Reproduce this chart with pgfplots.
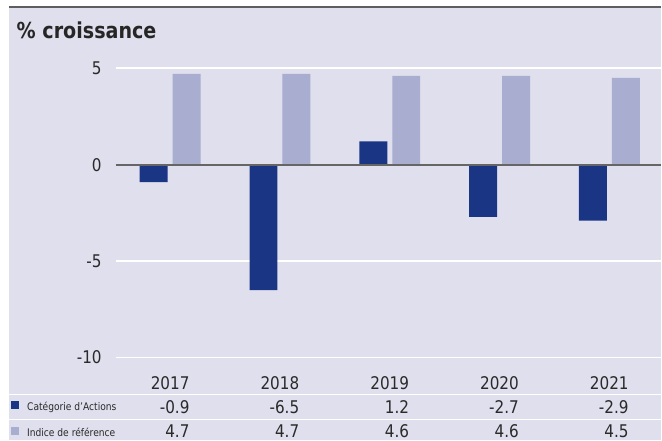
\documentclass[border=0pt]{standalone}
\usepackage{pgfplots}
\pgfplotsset{compat=1.18}
\usepackage{fontspec}
\setmainfont{DejaVu Sans}[FakeStretch=0.87]
\definecolor{bg}{HTML}{DFDFED}
\definecolor{navy}{HTML}{1B3585}
\definecolor{lav}{HTML}{A9ADD0}
\definecolor{zl}{HTML}{666666}
\definecolor{tl}{HTML}{5E5E5E}
\definecolor{txt}{HTML}{2A2A2A}
\begin{document}
\begin{tikzpicture}[x=1pt,y=1pt]
\fill[white] (0,0) rectangle (662,441);
\fill[bg] (9,0) rectangle (662,433.5);
\draw[tl, line width=2.5pt] (9,434) -- (662,434);
\draw[white, line width=1.5pt] (9,46) -- (662,46);
\draw[white, line width=1.5pt] (9,20.5) -- (662,20.5);
\node[anchor=base west, font=\bfseries\fontsize{22}{24}\selectfont, inner sep=0, text=black!85] at (16.5,402.7) {\% croissance};
\begin{axis}[at={(116pt,82.7pt)}, anchor=south west, scale only axis,
  width=546pt, height=290pt,
  xmin=-0.4955, xmax=4.468, ymin=-10, ymax=5,
  axis line style={draw=none}, tick style={draw=none},
  ytick={-10,-5,0,5}, yticklabels={-10,-5,0,5},
  yticklabel style={font=\fontsize{17.5}{20}\selectfont, text=txt, inner sep=0pt, anchor=east, xshift=-14pt},
  xtick=\empty,
  ymajorgrids, grid style={white, line width=1.5pt},
  ybar=5pt, bar width=28pt, clip=false]
\addplot[fill=navy, draw=none] coordinates {(0,-0.9) (1,-6.5) (2,1.2) (3,-2.7) (4,-2.9)};
\addplot[fill=lav, draw=none] coordinates {(0,4.7) (1,4.7) (2,4.6) (3,4.6) (4,4.5)};
\draw[zl, line width=2pt] (axis cs:-0.4955,0) -- (axis cs:4.468,0);
\end{axis}
\begin{scope}[every node/.style={anchor=base east, inner sep=0, text=txt, font=\fontsize{17.5}{20}\selectfont}]
\foreach \i/\yr/\a/\b in {0/2017/-0.9/4.7, 1/2018/-6.5/4.7, 2/2019/1.2/4.6, 3/2020/-2.7/4.6, 4/2021/-2.9/4.5}{
  \node at (190+110*\i,51) {\yr};
  \node at (190+110*\i,27) {\a};
  \node at (190+110*\i,3) {\b};
}
\end{scope}
\fill[navy] (11,31) rectangle (19,39);
\fill[lav] (11,5) rectangle (19,13);
\node[anchor=base west, inner sep=0, text=txt, font=\fontsize{10.5}{12}\selectfont] at (27,29.3) {Catégorie d’Actions};
\node[anchor=base west, inner sep=0, text=txt, font=\fontsize{10.5}{12}\selectfont] at (27,4) {Indice de référence};
\end{tikzpicture}
\end{document}
